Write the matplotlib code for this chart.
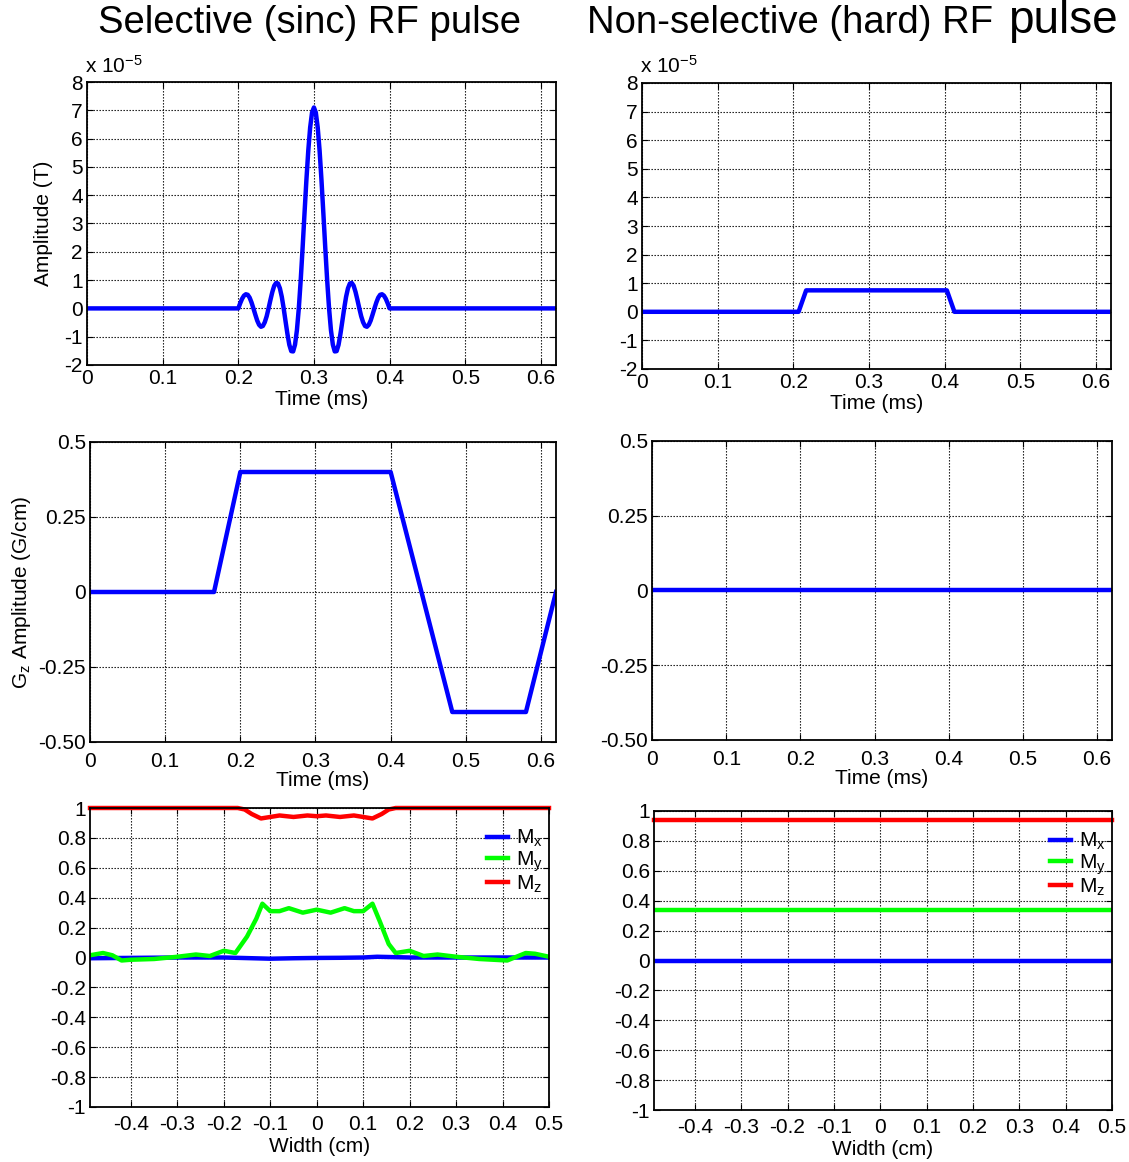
import matplotlib
matplotlib.use("Agg")
import matplotlib.pyplot as plt
from matplotlib.ticker import FixedLocator

plt.rcParams['font.family'] = ['Liberation Sans', 'DejaVu Sans']
plt.rcParams['mathtext.fontset'] = 'custom'
plt.rcParams['mathtext.rm'] = 'Liberation Sans'
plt.rcParams['mathtext.it'] = 'Liberation Sans'

FS = 15  # tick / label font size

# ---- data ----
# selective sinc RF pulse, amplitude in units of 1e-5 T
sinc_t = [0.0,
          0.2000, 0.2025, 0.2050, 0.2075, 0.2100, 0.2125, 0.2150, 0.2175,
          0.2200, 0.2225, 0.2250, 0.2275, 0.2300, 0.2325, 0.2350, 0.2375,
          0.2400, 0.2425, 0.2450, 0.2475, 0.2500, 0.2525, 0.2550, 0.2575,
          0.2600, 0.2625, 0.2650, 0.2675, 0.2700, 0.2725, 0.2750, 0.2775,
          0.2800, 0.2825, 0.2850, 0.2875, 0.2900, 0.2925, 0.2950, 0.2975,
          0.3000,
          0.3025, 0.3050, 0.3075, 0.3100, 0.3125, 0.3150, 0.3175, 0.3200,
          0.3225, 0.3250, 0.3275, 0.3300, 0.3325, 0.3350, 0.3375, 0.3400,
          0.3425, 0.3450, 0.3475, 0.3500, 0.3525, 0.3550, 0.3575, 0.3600,
          0.3625, 0.3650, 0.3675, 0.3700, 0.3725, 0.3750, 0.3775, 0.3800,
          0.3825, 0.3850, 0.3875, 0.3900, 0.3925, 0.3950, 0.3975, 0.4000,
          0.62]
sinc_amp = [0.0,
            0.0, 0.18, 0.34, 0.45, 0.50, 0.48, 0.38, 0.21,
            0.0, -0.22, -0.43, -0.58, -0.65, -0.62, -0.49, -0.28,
            0.0, 0.30, 0.58, 0.80, 0.90, 0.88, 0.71, 0.41,
            0.0, -0.46, -0.91, -1.29, -1.51, -1.52, -1.28, -0.77,
            0.0, 0.99, 2.13, 3.34, 4.52, 5.57, 6.39, 6.92,
            7.10,
            6.92, 6.39, 5.57, 4.52, 3.34, 2.13, 0.99, 0.0,
            -0.77, -1.28, -1.52, -1.51, -1.29, -0.91, -0.46, 0.0,
            0.41, 0.71, 0.88, 0.90, 0.80, 0.58, 0.30, 0.0,
            -0.28, -0.49, -0.62, -0.65, -0.58, -0.43, -0.22, 0.0,
            0.21, 0.38, 0.48, 0.50, 0.45, 0.34, 0.18, 0.0,
            0.0]

# non-selective hard RF pulse
hard_t = [0.0, 0.207, 0.217, 0.403, 0.413, 0.62]
hard_amp = [0.0, 0.0, 0.75, 0.75, 0.0, 0.0]

# slice-select gradient
grad_t = [0.0, 0.165, 0.200, 0.400, 0.482, 0.580, 0.620]
grad_amp = [0.0, 0.0, 0.40, 0.40, -0.40, -0.40, 0.0]
grad_off_t = [0.0, 0.62]
grad_off_amp = [0.0, 0.0]

# slice profile (selective)
mx_pos = [-0.488, -0.30, -0.20, -0.10, -0.05, 0.0, 0.05, 0.10, 0.13, 0.20, 0.50]
mx_val = [-0.005, 0.0, 0.0, -0.008, -0.005, -0.003, -0.002, 0.0, 0.005, 0.0, 0.0]

my_pos = [-0.488, -0.46, -0.44, -0.42, -0.40, -0.35, -0.30, -0.26, -0.23,
          -0.20, -0.175, -0.15, -0.13, -0.117, -0.10, -0.08, -0.06, -0.03,
          0.0, 0.03, 0.06, 0.08, 0.10, 0.12, 0.136, 0.155, 0.17, 0.20, 0.23,
          0.26, 0.30, 0.35, 0.41, 0.45, 0.47, 0.50]
my_val = [0.015, 0.03, 0.015, -0.02, -0.015, -0.01, 0.005, 0.02, 0.01,
          0.045, 0.03, 0.14, 0.26, 0.36, 0.31, 0.31, 0.33, 0.30,
          0.32, 0.30, 0.33, 0.31, 0.31, 0.36, 0.24, 0.09, 0.03, 0.045, 0.01,
          0.02, 0.005, -0.01, -0.02, 0.03, 0.025, 0.005]

mz_pos = [-0.488, -0.17, -0.155, -0.14, -0.12, -0.10, -0.08, -0.05, -0.02,
          0.0, 0.02, 0.05, 0.08, 0.10, 0.12, 0.14, 0.155, 0.17, 0.50]
mz_val = [1.0, 1.0, 0.99, 0.96, 0.93, 0.94, 0.95, 0.94, 0.95,
          0.945, 0.95, 0.94, 0.95, 0.94, 0.93, 0.96, 0.99, 1.0, 1.0]

# slice profile (hard pulse) - constant across width
hard_pos = [-0.488, 0.50]
hard_mx = [0.0, 0.0]
hard_my = [0.34, 0.34]
hard_mz = [0.94, 0.94]

time_ticks = [0, 0.1, 0.2, 0.3, 0.4, 0.5, 0.6]
rf_ticks = [-2, -1, 0, 1, 2, 3, 4, 5, 6, 7, 8]
grad_ticks = [-0.5, -0.25, 0, 0.25, 0.5]
grad_labels = ['-0.50', '-0.25', '0', '0.25', '0.5']
width_ticks = [-0.4, -0.3, -0.2, -0.1, 0, 0.1, 0.2, 0.3, 0.4, 0.5]
m_ticks = [-1, -0.8, -0.6, -0.4, -0.2, 0, 0.2, 0.4, 0.6, 0.8, 1]

W, H = 1129, 1162
fig = plt.figure(figsize=(W / 100, H / 100), dpi=100)


def make_ax(l, r, t, b):
    ax = fig.add_axes([l / W, 1 - b / H, (r - l) / W, (b - t) / H])
    ax.grid(True, color='black', linestyle=(0, (1.2, 1.5)), linewidth=0.8)
    ax.tick_params(direction='in', top=True, right=True, length=4,
                   labelsize=FS, width=0.8, pad=3)
    for s in ax.spines.values():
        s.set_linewidth(1.3)
    return ax


def fmt(v):
    return '%g' % v


def set_ticks(ax, xt, yt, ylabels=None):
    ax.xaxis.set_major_locator(FixedLocator(xt))
    ax.yaxis.set_major_locator(FixedLocator(yt))
    ax.set_xticklabels([fmt(v) for v in xt])
    ax.set_yticklabels(ylabels if ylabels else [fmt(v) for v in yt])


# ---- top row: RF pulses ----
ax1 = make_ax(87, 556, 82, 365)
ax1.plot(sinc_t, sinc_amp, color='#0000ff', lw=3.2)
ax1.set_xlim(0, 0.62)
ax1.set_ylim(-2, 8)
set_ticks(ax1, time_ticks, rf_ticks)
ax1.set_xlabel('Time (ms)', fontsize=FS, labelpad=1)
ax1.set_ylabel('Amplitude (T)', fontsize=FS, labelpad=8)
ax1.text(-0.005, 1.02, r'x 10$^{\mathregular{-5}}$', transform=ax1.transAxes,
         fontsize=FS, ha='left', va='bottom')

ax2 = make_ax(642, 1111, 83, 369)
ax2.plot(hard_t, hard_amp, color='#0000ff', lw=3.2)
ax2.set_xlim(0, 0.62)
ax2.set_ylim(-2, 8)
set_ticks(ax2, time_ticks, rf_ticks)
ax2.set_xlabel('Time (ms)', fontsize=FS, labelpad=1)
ax2.text(-0.005, 1.02, r'x 10$^{\mathregular{-5}}$', transform=ax2.transAxes,
         fontsize=FS, ha='left', va='bottom')

# ---- middle row: gradients ----
ax3 = make_ax(90, 556, 442, 742)
ax3.plot(grad_t, grad_amp, color='#0000ff', lw=3.2)
ax3.set_xlim(0, 0.62)
ax3.set_ylim(-0.5, 0.5)
set_ticks(ax3, time_ticks, grad_ticks, grad_labels)
ax3.tick_params(axis='x', pad=7)
ax3.set_xlabel('Time (ms)', fontsize=FS, labelpad=0)
ax3.set_ylabel(r'G$_\mathregular{z}$ Amplitude (G/cm)', fontsize=FS, labelpad=4)

ax4 = make_ax(652, 1112, 441, 740)
ax4.plot(grad_off_t, grad_off_amp, color='#0000ff', lw=3.2)
ax4.set_xlim(0, 0.62)
ax4.set_ylim(-0.5, 0.5)
set_ticks(ax4, time_ticks, grad_ticks, grad_labels)
ax4.tick_params(axis='x', pad=7)
ax4.set_xlabel('Time (ms)', fontsize=FS, labelpad=0)


# ---- bottom row: slice profiles ----
def profile(ax, pos_x, mx, pos_y, my, pos_z, mz):
    ax.plot(pos_x, mx, color='#0000ff', lw=3.2, label=r'M$_\mathregular{x}$')
    ax.plot(pos_y, my, color='#00ff00', lw=3.2, label=r'M$_\mathregular{y}$')
    ax.plot(pos_z, mz, color='#ff0000', lw=3.2, label=r'M$_\mathregular{z}$',
            clip_on=False)
    ax.set_xlim(-0.488, 0.5)
    ax.set_ylim(-1, 1)
    set_ticks(ax, width_ticks, m_ticks)
    ax.set_xlabel('Width (cm)', fontsize=FS, labelpad=2)
    ax.tick_params(axis='x', pad=6)
    ax.legend(loc='upper right', bbox_to_anchor=(1.015, 0.975), frameon=False,
              fontsize=FS, handlelength=1.0, handletextpad=0.4,
              labelspacing=0.0, borderaxespad=0.2)


ax5 = make_ax(90, 549, 808, 1107)
profile(ax5, mx_pos, mx_val, my_pos, my_val, mz_pos, mz_val)

ax6 = make_ax(654, 1112, 811, 1110)
profile(ax6, hard_pos, hard_mx, hard_pos, hard_my, hard_pos, hard_mz)

# ---- column titles ----
fig.text(309 / W, 1 - 23 / H, 'Selective (sinc) RF pulse', fontsize=27.5,
         ha='center', va='center')
fig.text(1004 / W, 1 - 23 / H, 'Non-selective (hard) RF ', fontsize=27.5,
         ha='right', va='center')
fig.text(1008 / W, 1 - 21 / H, 'pulse', fontsize=33, ha='left', va='center')

fig.savefig('out.png', dpi=100)
